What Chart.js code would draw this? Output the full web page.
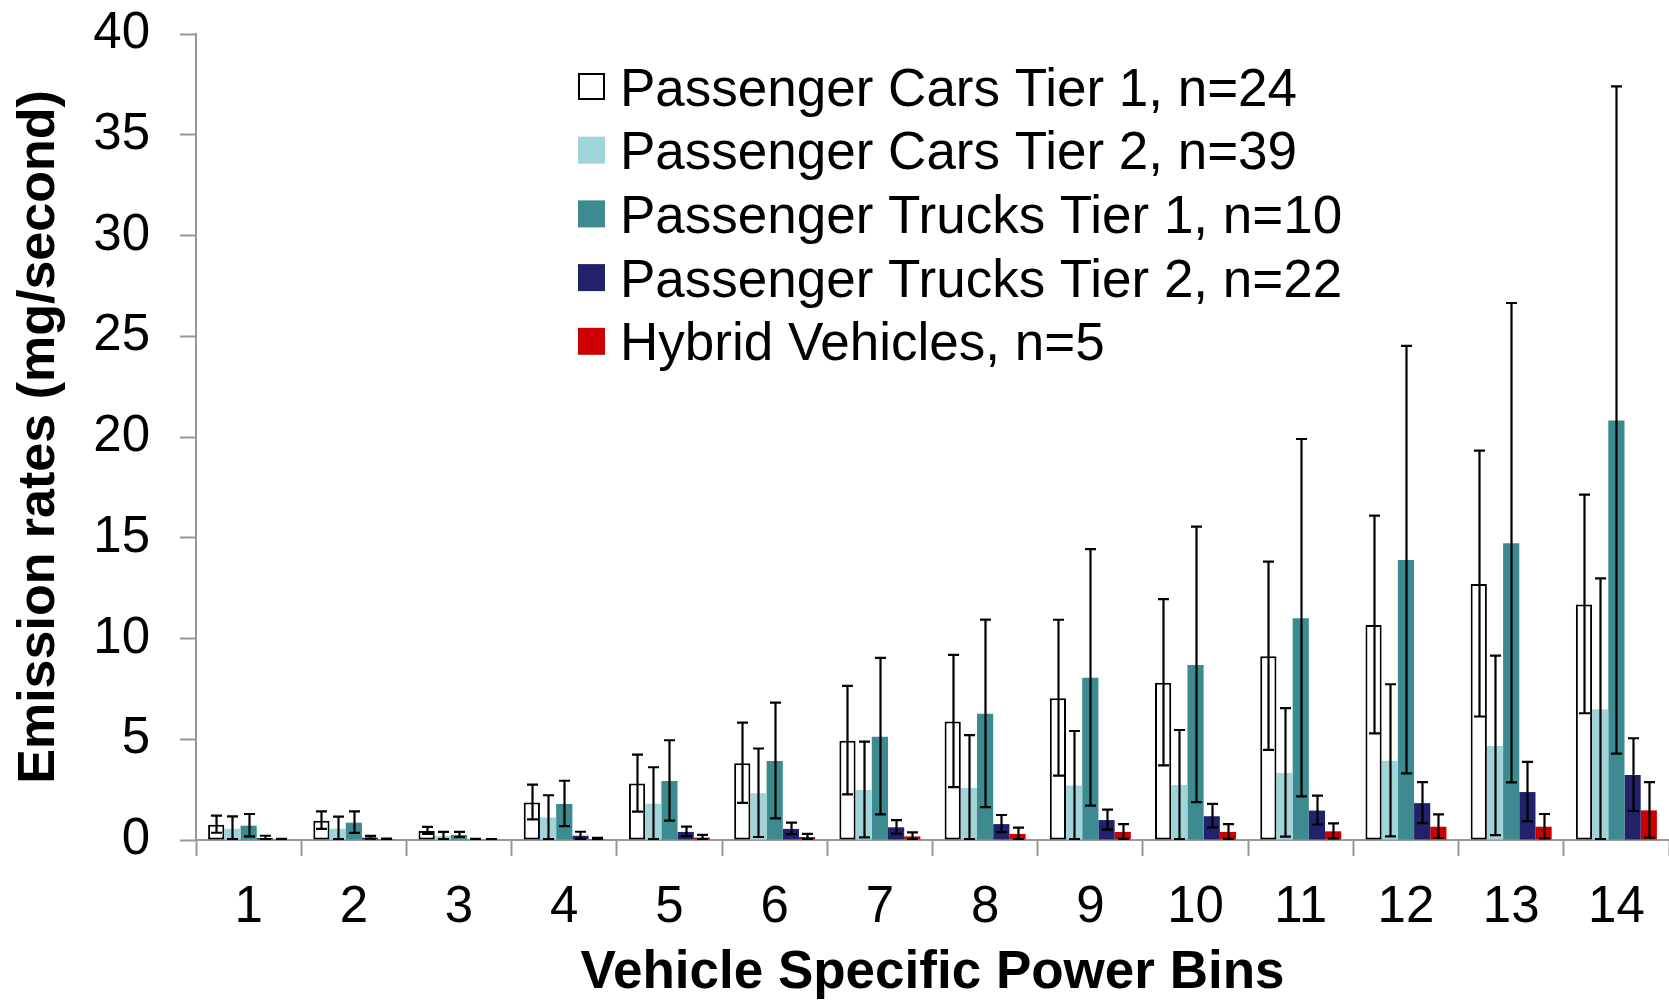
<!DOCTYPE html>
<html>
<head>
<meta charset="utf-8">
<title>Emission rates by VSP bin</title>
<script src="https://cdn.jsdelivr.net/npm/chart.js@4/dist/chart.umd.min.js"></script>
<style>
  html, body { margin: 0; padding: 0; background: #ffffff; }
  #wrap { width: 1669px; height: 1000px; position: relative; }
</style>
</head>
<body>
<div id="wrap"><canvas id="chart" width="1669" height="1000"></canvas></div>
<script>
// Vehicle Specific Power bins
const bins = ['1', '2', '3', '4', '5', '6', '7', '8', '9', '10', '11', '12', '13', '14'];

// Mean emission rates (mg/second) and their standard deviations
const carsTier1     = [0.76, 0.96, 0.45, 1.86, 2.80, 3.81, 4.93, 5.88, 7.04, 7.80, 9.12, 10.67, 12.70, 11.69];
const carsTier1Sd   = [0.45, 0.46, 0.20, 0.89, 1.44, 2.02, 2.72, 3.31, 3.89, 4.15, 4.70, 5.43, 6.62, 5.45];

const carsTier2     = [0.56, 0.56, 0.20, 1.11, 1.80, 2.32, 2.48, 2.58, 2.70, 2.73, 3.33, 3.93, 4.67, 6.49];
const carsTier2Sd   = [0.61, 0.60, 0.20, 1.11, 1.81, 2.22, 2.40, 2.62, 2.71, 2.73, 3.21, 3.80, 4.48, 6.49];

const trucksTier1   = [0.71, 0.86, 0.25, 1.79, 2.93, 3.92, 5.13, 6.26, 8.05, 8.69, 11.01, 13.89, 14.73, 20.82];
const trucksTier1Sd = [0.58, 0.56, 0.15, 1.15, 2.02, 2.90, 3.91, 4.68, 6.39, 6.86, 8.89, 10.63, 11.92, 16.58];

const trucksTier2   = [0.10, 0.11, 0.03, 0.21, 0.40, 0.55, 0.63, 0.79, 0.99, 1.18, 1.46, 1.83, 2.38, 3.22];
const trucksTier2Sd = [0.11, 0.09, 0.02, 0.20, 0.26, 0.31, 0.36, 0.45, 0.52, 0.61, 0.74, 1.04, 1.50, 1.83];

const hybrids       = [0.03, 0.04, 0.02, 0.05, 0.12, 0.15, 0.18, 0.30, 0.40, 0.40, 0.43, 0.66, 0.66, 1.47];
const hybridsSd     = [0.03, 0.03, 0.02, 0.06, 0.13, 0.15, 0.20, 0.31, 0.39, 0.39, 0.40, 0.61, 0.63, 1.40];

const seriesNames = [
  'Passenger Cars Tier 1, n=24',
  'Passenger Cars Tier 2, n=39',
  'Passenger Trucks Tier 1, n=10',
  'Passenger Trucks Tier 2, n=22',
  'Hybrid Vehicles, n=5'
];

const yMin = 0, yMax = 40, yStep = 5;

const FONT = "'Liberation Sans', Arial, Helvetica, sans-serif";
const AXIS_GREY = '#979797';

Chart.defaults.font.family = FONT;
Chart.defaults.color = '#000000';

// Vertical error bars with end caps, drawn over every bar
const errorBarPlugin = {
  id: 'errorBars',
  afterDatasetsDraw(chart) {
    const { ctx, chartArea } = chart;
    const yScale = chart.scales.y;
    const cap = 5.5;
    ctx.save();
    ctx.beginPath();
    ctx.rect(chartArea.left, yScale.top - 2, chartArea.right - chartArea.left, yScale.bottom - yScale.top + 2);
    ctx.clip();
    ctx.strokeStyle = '#000000';
    ctx.lineWidth = 2.2;
    chart.data.datasets.forEach((ds, di) => {
      const meta = chart.getDatasetMeta(di);
      if (!ds.errors || meta.hidden) return;
      meta.data.forEach((bar, i) => {
        const v = ds.data[i];
        const e = ds.errors[i];
        const hi = yScale.getPixelForValue(v + e);
        const lo = yScale.getPixelForValue(Math.max(yMin, v - e));
        const x = Math.round(bar.x) + 0.5;
        ctx.beginPath();
        ctx.moveTo(x, hi);
        ctx.lineTo(x, lo);
        ctx.moveTo(x - cap, hi);
        ctx.lineTo(x + cap, hi);
        ctx.moveTo(x - cap, lo - 1);
        ctx.lineTo(x + cap, lo - 1);
        ctx.stroke();
      });
    });
    ctx.restore();
  }
};

// Bin numbers under the category axis, centred on each category
const binLabelPlugin = {
  id: 'binLabels',
  afterDraw(chart) {
    const { ctx } = chart;
    const xScale = chart.scales.x;
    const baseline = chart.scales.y.getPixelForValue(0) + 82;
    ctx.save();
    ctx.font = '51px ' + FONT;
    ctx.fillStyle = '#000000';
    ctx.textAlign = 'center';
    ctx.textBaseline = 'alphabetic';
    chart.data.labels.forEach((lab, i) => {
      ctx.fillText(lab, xScale.getPixelForValue(i), baseline);
    });
    ctx.restore();
  }
};

// Legend block placed inside the plot area
const insideLegendPlugin = {
  id: 'insideLegend',
  afterDraw(chart) {
    const { ctx } = chart;
    const left = 578, top = 73, box = 27, gap = 15, pitch = 63.7;
    ctx.save();
    ctx.font = '53px ' + FONT;
    ctx.textAlign = 'left';
    ctx.textBaseline = 'alphabetic';
    chart.data.datasets.forEach((ds, i) => {
      const y = top + i * pitch;
      ctx.fillStyle = ds.backgroundColor;
      ctx.fillRect(left, y, box, box);
      if (ds.borderWidth) {
        ctx.strokeStyle = ds.borderColor;
        ctx.lineWidth = 2;
        ctx.strokeRect(left + 1, y + 1, box - 2, box - 2);
      }
      ctx.fillStyle = '#000000';
      ctx.fillText(ds.label, left + box + gap, y + box / 2 + 19);
    });
    ctx.restore();
  }
};

const makeSet = (label, data, errors, fill, border, bw) => ({
  label, data, errors,
  backgroundColor: fill,
  borderColor: border,
  borderWidth: bw,
  borderSkipped: false,
  categoryPercentage: 0.77,
  barPercentage: 1.0
});

new Chart(document.getElementById('chart'), {
  type: 'bar',
  data: {
    labels: bins,
    datasets: [
      makeSet(seriesNames[0], carsTier1,   carsTier1Sd,   '#FFFFFF', '#000000', 2),
      makeSet(seriesNames[1], carsTier2,   carsTier2Sd,   '#A0D4D8', '#A0D4D8', 0),
      makeSet(seriesNames[2], trucksTier1, trucksTier1Sd, '#3D8B90', '#3D8B90', 0),
      makeSet(seriesNames[3], trucksTier2, trucksTier2Sd, '#22226A', '#22226A', 0),
      makeSet(seriesNames[4], hybrids,     hybridsSd,     '#CC0000', '#CC0000', 0)
    ]
  },
  options: {
    responsive: false,
    animation: false,
    devicePixelRatio: 1,
    layout: { padding: { top: 34, right: 0, bottom: 0, left: 0 } },
    plugins: {
      legend: { display: false },
      tooltip: { enabled: false },
      title: { display: false }
    },
    scales: {
      x: {
        grid: {
          offset: true,
          drawOnChartArea: false,
          drawTicks: true,
          tickLength: 16,
          tickWidth: 2,
          tickColor: AXIS_GREY
        },
        border: { display: true, color: AXIS_GREY, width: 2 },
        ticks: { display: false },
        title: {
          display: true,
          text: 'Vehicle Specific Power Bins',
          font: { size: 53, weight: 'bold', lineHeight: 1 },
          padding: { top: 0, bottom: 0 },
          color: '#000000'
        },
        afterFit(scale) {
          scale.height = 160;
          scale.paddingLeft = 0;
          scale.paddingRight = 0;
        }
      },
      y: {
        min: yMin,
        max: yMax,
        grid: {
          drawOnChartArea: false,
          drawTicks: true,
          tickLength: 16,
          tickWidth: 2,
          tickColor: AXIS_GREY
        },
        border: { display: true, color: AXIS_GREY, width: 2 },
        ticks: { stepSize: yStep, font: { size: 51, lineHeight: 1 }, padding: 30, color: '#000000' },
        title: {
          display: true,
          text: 'Emission rates (mg/second)',
          font: { size: 52, weight: 'bold', lineHeight: 1 },
          padding: { top: 14, bottom: 0 },
          color: '#000000'
        },
        afterFit(scale) {
          scale.width = 196;
          scale.paddingTop = 0;
          scale.paddingBottom = 0;
        }
      }
    }
  },
  plugins: [errorBarPlugin, binLabelPlugin, insideLegendPlugin]
});
</script>
</body>
</html>
